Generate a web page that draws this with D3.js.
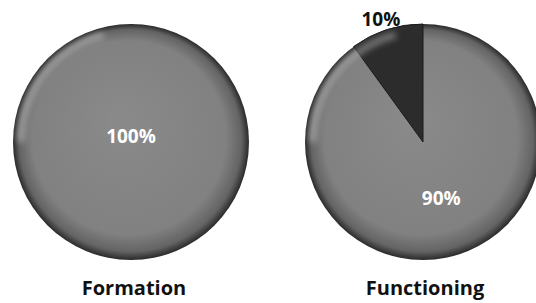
<!DOCTYPE html>
<html>
<head>
<meta charset="utf-8">
<script src="https://cdn.jsdelivr.net/npm/d3@7"></script>
<style>
  body { margin: 0; background: #fff; }
</style>
</head>
<body>
<div class="canvas"></div>
<script>
// one pie per category, main share (grey) and the rest (dark)
const categories = ['Formation', 'Functioning']
const mainShare = [100, 90]
const otherShare = [0, 10]

const width = 536, height = 303
const centersX = [131, 423]
const cy = 142
const radius = 118

const svg = d3.select('.canvas').append('svg')
    .attr('width', width)
    .attr('height', height)
    .style('font-family', '"Open Sans", sans-serif')

const defs = svg.append('defs')

// shaded grey fill, darker towards the rim
const g1 = defs.append('radialGradient')
    .attr('id', 'greyFill')
    .attr('cx', '50%').attr('cy', '50%').attr('r', '50%')
    .attr('fx', '45%').attr('fy', '40%')
g1.append('stop').attr('offset', '0%').attr('stop-color', '#8a8a8a')
g1.append('stop').attr('offset', '82%').attr('stop-color', '#818181')
g1.append('stop').attr('offset', '94%').attr('stop-color', '#646464')
g1.append('stop').attr('offset', '100%').attr('stop-color', '#2a2a2a')

// soft blur for the shine on the upper-left rim
defs.append('filter').attr('id', 'soft')
    .attr('x', '-20%').attr('y', '-20%').attr('width', '140%').attr('height', '140%')
    .append('feGaussianBlur').attr('stdDeviation', 3)

const pie = d3.pie().sort(null)
const arc = d3.arc().innerRadius(0).outerRadius(radius)
const labelArc = d3.arc().innerRadius(radius * 0.5).outerRadius(radius * 0.5)
const outerArc = d3.arc().innerRadius(radius * 1.1).outerRadius(radius * 1.1)

categories.forEach((cat, i) => {
    const g = svg.append('g').attr('transform', `translate(${centersX[i]},${cy})`)
    const slices = pie([mainShare[i], otherShare[i]])

    g.append('circle').attr('r', radius).attr('fill', 'url(#greyFill)')

    g.selectAll('path.slice')
        .data(slices.filter(d => d.value > 0 && d.index === 1))
        .join('path')
        .attr('class', 'slice')
        .attr('d', arc)
        .attr('fill', '#2c2c2c')
        .attr('stroke', '#1a1a1a')
        .attr('stroke-width', 1)

    // rim shine on the upper-left
    g.append('path')
        .attr('d', d3.arc().innerRadius(radius - 11).outerRadius(radius - 4)
            .startAngle(-Math.PI * 0.5).endAngle(-Math.PI * 0.08)())
        .attr('fill', '#fff')
        .attr('opacity', 0.35)
        .attr('filter', 'url(#soft)')

    slices.filter(d => d.value > 0).forEach(d => {
        let pos, fill
        if (d.value === 100) { pos = [0, -6]; fill = '#fff' }
        else if (d.index === 0) { pos = labelArc.centroid(d); fill = '#fff' }
        else { pos = outerArc.centroid(d); pos[0] -= 2; fill = '#111' }
        g.append('text')
            .attr('x', pos[0])
            .attr('y', pos[1])
            .attr('text-anchor', 'middle')
            .attr('dominant-baseline', 'central')
            .attr('fill', fill)
            .style('font-size', '19px')
            .style('font-weight', 'bold')
            .text(d.value + '%')
    })

    svg.append('text')
        .attr('x', centersX[i] + (i === 0 ? 3 : 2))
        .attr('y', 287)
        .attr('text-anchor', 'middle')
        .attr('dominant-baseline', 'central')
        .attr('fill', '#111')
        .style('font-size', '20px')
        .style('font-weight', 'bold')
        .text(cat)
})
</script>
</body>
</html>
